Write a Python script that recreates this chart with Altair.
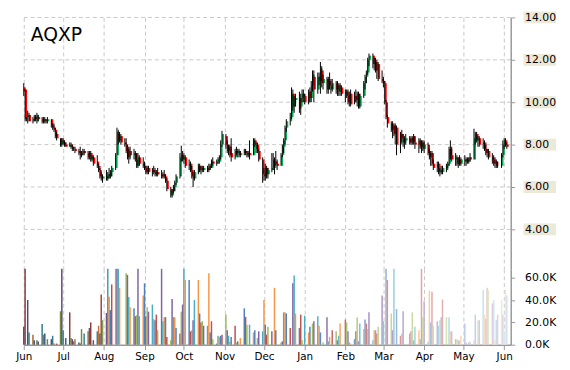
import altair as alt
import pandas as pd
import numpy as np

symbol = "AQXP"

# ---- daily candles [open, high, low, close] (weekdays of each month) ----
c_2015_06 = [
    [10.7, 10.9, 10.3, 10.5], [10.6, 10.6, 9.1, 9.2], [9.2, 9.3, 9.1, 9.2], [9.3, 9.6, 9.0, 9.4], [9.4, 9.5, 9.1, 9.1],
    [9.1, 9.3, 9.0, 9.2], [9.2, 9.4, 9.1, 9.3], [9.3, 9.4, 9.1, 9.2], [9.1, 9.5, 9.0, 9.4], [9.3, 9.4, 9.1, 9.2],
    [9.2, 9.3, 9.0, 9.1], [9.1, 9.3, 9.0, 9.2], [9.2, 9.3, 9.0, 9.1], [9.1, 9.2, 9.0, 9.1], [9.1, 9.3, 9.0, 9.2],
    [9.2, 9.2, 8.8, 8.9], [8.9, 9.0, 8.7, 8.8], [8.8, 9.0, 8.6, 8.7], [8.7, 8.8, 8.3, 8.4], [8.5, 8.6, 8.2, 8.3],
    [8.3, 8.3, 7.9, 8.0], [8.0, 8.3, 7.9, 8.2]]
c_2015_07 = [
    [8.2, 8.3, 8.0, 8.1], [8.1, 8.2, 7.9, 8.0], [8.0, 8.1, 7.9, 7.9],
    [7.9, 8.1, 7.9, 8.0], [8.0, 8.1, 7.8, 7.9], [7.9, 8.0, 7.7, 7.8], [7.8, 7.9, 7.7, 7.8], [7.8, 7.9, 7.6, 7.7],
    [7.7, 7.8, 7.5, 7.6], [7.6, 7.9, 7.3, 7.5], [7.5, 7.7, 7.4, 7.6], [7.6, 7.8, 7.5, 7.7], [7.7, 7.8, 7.5, 7.6],
    [7.6, 7.7, 7.3, 7.4], [7.5, 7.7, 7.3, 7.6], [7.6, 7.7, 7.2, 7.3], [7.3, 7.5, 7.2, 7.4], [7.4, 7.5, 7.0, 7.1],
    [7.2, 7.5, 6.9, 7.0], [7.0, 7.1, 6.7, 6.8], [6.8, 6.9, 6.4, 6.5], [6.5, 6.7, 6.3, 6.4], [6.4, 6.6, 6.2, 6.5]]
c_2015_08 = [
    [6.5, 6.8, 6.3, 6.4], [6.4, 6.7, 6.3, 6.6], [6.6, 6.9, 6.4, 6.5], [6.5, 6.8, 6.4, 6.7], [6.7, 7.0, 6.5, 6.9],
    [6.9, 7.6, 6.8, 7.5], [7.5, 8.8, 7.5, 8.6], [8.5, 8.7, 8.0, 8.2], [8.2, 8.6, 8.1, 8.4], [8.4, 8.5, 8.0, 8.1],
    [8.1, 8.3, 7.9, 8.0], [8.0, 8.3, 7.6, 7.7], [7.8, 8.0, 7.3, 7.4], [7.4, 7.9, 7.1, 7.7], [7.7, 7.9, 7.3, 7.5],
    [7.5, 7.8, 7.3, 7.6], [7.6, 7.7, 7.2, 7.3], [7.3, 7.6, 6.9, 7.0], [7.0, 7.6, 6.9, 7.4], [7.4, 7.5, 7.0, 7.1],
    [7.1, 7.4, 6.9, 7.0]]
c_2015_09 = [
    [7.0, 7.2, 6.8, 6.9], [6.9, 7.0, 6.6, 6.7], [6.7, 7.0, 6.6, 6.9], [6.9, 7.0, 6.6, 6.7],
    [6.7, 6.9, 6.5, 6.8], [6.8, 7.0, 6.6, 6.7], [6.7, 6.9, 6.5, 6.6], [6.6, 6.8, 6.5, 6.7], [6.7, 6.9, 6.5, 6.6],
    [6.6, 6.8, 6.4, 6.5], [6.5, 6.7, 6.4, 6.6], [6.6, 6.8, 6.4, 6.5], [6.5, 6.6, 6.2, 6.3], [6.3, 6.4, 5.8, 5.9],
    [5.9, 6.0, 5.5, 5.6], [5.6, 5.9, 5.5, 5.8], [5.8, 6.1, 5.7, 6.0], [6.0, 6.3, 5.8, 6.2], [6.2, 6.6, 6.1, 6.5],
    [6.5, 7.6, 6.4, 7.4], [7.4, 7.95, 7.2, 7.5], [7.5, 7.7, 7.2, 7.3]]
c_2015_10 = [
    [7.3, 7.6, 7.1, 7.4], [7.4, 7.5, 6.9, 7.0],
    [7.0, 7.3, 6.8, 7.1], [7.1, 7.2, 6.7, 6.8], [6.8, 7.0, 6.4, 6.5], [6.5, 6.7, 6.0, 6.4], [6.4, 6.8, 6.3, 6.7],
    [6.7, 7.1, 6.6, 7.0], [7.0, 7.1, 6.7, 6.8], [6.8, 7.0, 6.6, 6.9], [6.9, 7.0, 6.7, 6.8], [6.8, 7.0, 6.7, 6.9],
    [6.9, 7.0, 6.7, 6.8], [6.8, 7.1, 6.7, 7.0], [7.0, 7.1, 6.8, 6.9], [6.9, 7.3, 6.9, 7.2], [7.2, 7.4, 7.0, 7.1],
    [7.1, 7.3, 7.0, 7.2], [7.2, 7.4, 7.1, 7.3], [7.2, 7.5, 7.1, 7.4], [7.4, 8.2, 7.3, 8.0], [8.0, 8.65, 7.9, 8.5]]
c_2015_11 = [
    [8.4, 8.5, 7.8, 8.0], [8.0, 8.2, 7.6, 7.7], [7.7, 8.0, 7.5, 7.9], [7.9, 8.0, 7.4, 7.5], [7.6, 8.3, 7.2, 7.4],
    [7.4, 7.8, 7.3, 7.7], [7.7, 7.9, 7.5, 7.6], [7.6, 7.8, 7.4, 7.7], [7.7, 7.8, 7.4, 7.5], [7.5, 7.7, 7.4, 7.6],
    [7.6, 7.8, 7.5, 7.7], [7.7, 7.8, 7.5, 7.6], [7.6, 7.7, 7.4, 7.5], [7.5, 7.7, 7.4, 7.6], [7.6, 8.2, 7.3, 7.5],
    [7.5, 8.3, 7.5, 8.2], [8.2, 8.3, 7.9, 8.0], [7.8, 8.1, 7.6, 8.0], [8.0, 8.1, 7.6, 7.7], [7.7, 7.8, 7.2, 7.3],
    [7.3, 7.4, 6.2, 6.6]]
c_2015_12 = [
    [6.6, 6.9, 6.3, 6.5], [6.5, 7.1, 6.3, 6.9], [6.9, 7.0, 6.4, 6.6], [6.6, 6.9, 6.4, 6.8],
    [6.8, 7.6, 6.7, 6.9], [7.3, 7.6, 6.8, 6.9], [6.9, 7.4, 6.6, 7.2], [7.2, 7.7, 7.0, 7.1], [7.1, 7.3, 6.8, 7.0],
    [7.0, 7.6, 7.0, 7.5], [7.5, 8.0, 7.4, 7.9], [7.9, 8.3, 7.6, 8.2], [8.2, 8.9, 8.0, 8.8], [8.8, 9.2, 8.6, 9.1],
    [9.1, 9.5, 8.9, 9.3], [9.3, 10.7, 9.2, 10.4], [10.4, 10.6, 9.6, 9.8], [9.8, 10.3, 9.5, 10.1], [10.1, 10.4, 9.8, 10.2],
    [10.2, 10.5, 9.5, 9.7], [9.8, 10.4, 9.4, 10.2], [10.2, 10.6, 10.0, 10.4], [10.4, 10.6, 10.0, 10.3]]
c_2016_01 = [
    [10.3, 10.4, 9.9, 10.0],
    [10.0, 10.6, 9.9, 10.5], [10.5, 10.7, 10.0, 10.2], [10.2, 11.0, 10.0, 10.8], [10.8, 11.5, 10.5, 11.3], [11.2, 11.5, 10.0, 10.6],
    [10.6, 11.4, 10.4, 11.2], [11.2, 11.4, 10.8, 11.0], [11.0, 11.9, 10.4, 11.6], [11.5, 11.7, 10.7, 10.9], [10.9, 11.3, 10.6, 11.1],
    [11.1, 11.2, 10.4, 10.6], [10.6, 11.2, 10.4, 11.0], [11.0, 11.4, 10.6, 10.8], [10.8, 11.1, 10.4, 10.6], [10.6, 11.1, 10.5, 10.9],
    [10.9, 11.0, 10.4, 10.6], [10.6, 11.0, 10.3, 10.8], [10.8, 10.9, 10.3, 10.5], [10.5, 10.9, 10.3, 10.7], [10.7, 10.8, 10.3, 10.4]]
c_2016_02 = [
    [10.4, 10.6, 10.0, 10.5], [10.5, 10.6, 10.2, 10.3], [10.3, 10.6, 9.9, 10.0], [10.0, 10.5, 9.8, 10.4], [10.4, 10.6, 9.8, 9.9],
    [10.0, 10.5, 9.9, 10.3], [10.3, 10.6, 10.0, 10.1], [10.1, 10.5, 9.8, 10.4], [10.4, 10.5, 9.7, 9.8], [9.8, 10.4, 9.7, 10.3],
    [10.3, 11.0, 10.2, 10.9], [10.9, 11.3, 10.6, 11.2], [11.2, 11.5, 10.9, 11.4], [11.4, 12.1, 11.3, 12.0], [12.0, 12.3, 11.7, 12.2],
    [12.2, 12.3, 11.6, 11.8], [11.8, 12.1, 11.5, 11.9], [11.9, 12.1, 11.4, 11.5], [11.5, 12.0, 11.1, 11.8], [11.8, 11.9, 11.0, 11.1],
    [11.1, 11.5, 10.9, 11.0]]
c_2016_03 = [
    [11.0, 11.2, 10.7, 10.9], [10.9, 11.0, 9.9, 10.0], [10.0, 10.1, 9.2, 9.3], [9.3, 9.4, 8.8, 9.0],
    [9.0, 9.1, 8.6, 8.7], [8.7, 9.1, 8.3, 8.9], [8.9, 9.0, 8.4, 8.5], [8.5, 9.0, 8.0, 8.8], [8.8, 8.9, 7.5, 8.0],
    [8.0, 8.6, 7.6, 8.5], [8.5, 8.7, 8.1, 8.3], [8.3, 8.5, 7.9, 8.1], [8.1, 8.4, 7.8, 8.2], [8.2, 8.5, 8.0, 8.3],
    [8.3, 8.4, 8.0, 8.1], [8.1, 8.4, 8.0, 8.3], [8.3, 8.4, 8.0, 8.2], [8.4, 8.5, 8.0, 8.1], [8.1, 8.4, 7.8, 8.0],
    [8.0, 8.3, 7.6, 8.2], [8.2, 8.3, 7.8, 7.9], [7.9, 8.2, 7.6, 8.1], [8.1, 8.2, 7.7, 7.8]]
c_2016_04 = [
    [7.8, 8.2, 7.6, 8.0],
    [8.0, 8.1, 7.5, 7.6], [7.6, 7.8, 7.3, 7.4], [7.4, 7.7, 7.0, 7.6], [7.6, 7.7, 7.0, 7.1], [7.1, 7.3, 6.8, 6.9],
    [6.9, 7.2, 6.7, 7.1], [7.1, 7.2, 6.6, 6.7], [6.7, 6.9, 6.5, 6.8], [6.8, 7.0, 6.6, 6.7], [6.7, 7.0, 6.6, 6.9],
    [6.9, 7.1, 6.7, 7.0], [7.0, 7.2, 6.8, 7.1], [7.1, 7.9, 7.0, 7.8], [7.8, 8.2, 7.3, 7.5], [7.5, 7.9, 7.2, 7.3],
    [7.3, 7.6, 7.0, 7.4], [7.4, 7.5, 7.0, 7.1], [7.1, 7.4, 6.9, 7.3], [7.3, 7.5, 7.0, 7.1], [7.1, 7.4, 7.0, 7.3]]
c_2016_05 = [
    [7.3, 7.5, 7.0, 7.2], [7.2, 7.4, 7.0, 7.3], [7.3, 7.4, 7.1, 7.2], [7.2, 7.4, 7.1, 7.4], [7.4, 7.6, 7.2, 7.3],
    [7.3, 8.75, 7.3, 8.3], [8.3, 8.6, 8.0, 8.5], [8.5, 8.6, 8.1, 8.2], [8.2, 8.4, 7.9, 8.3], [8.3, 8.4, 7.9, 8.0],
    [8.0, 8.3, 7.8, 8.1], [8.1, 8.2, 7.7, 7.8], [7.8, 8.0, 7.5, 7.6], [7.6, 7.8, 7.4, 7.7], [7.7, 7.8, 7.3, 7.4],
    [7.4, 7.6, 7.1, 7.3], [7.3, 7.5, 7.0, 7.1], [7.1, 7.4, 6.9, 7.2], [7.2, 7.3, 6.9, 7.0], [7.0, 7.2, 6.9, 7.0],
    [7.0, 7.6, 6.9, 7.5], [7.5, 8.2, 7.4, 8.0]]
c_2016_06 = [[8.0, 8.3, 7.8, 8.2], [8.2, 8.3, 7.9, 8.0], [8.0, 8.1, 7.8, 7.9]]

# ---- daily volume, in thousands ----
v_2015_06 = [16, 68, 0, 40, 11, 9, 4, 0, 4, 3, 18.5, 9, 10, 0, 5, 5, 8, 1, 0, 1, 30, 68]
v_2015_07 = [13, 0, 6, 29, 6, 5, 3, 5, 2, 1, 14, 0, 10, 12, 15, 20, 0, 4, 12, 17, 10, 45, 22]
v_2015_08 = [28.5, 68, 43, 31, 54, 68, 68, 68, 51, 0, 0, 64, 62.6, 42.7, 33.5, 32.6, 25.6, 26.5, 68, 25.6, 44]
v_2015_09 = [55, 25.6, 33.5, 29.6, 36, 23, 22, 27, 13, 68, 21, 24.7, 24.7, 7, 4, 41, 24.7, 24.7, 15, 10, 29.6, 36]
v_2015_10 = [68, 58, 58, 12, 13, 22, 40, 58, 28, 20, 21, 17, 17, 64, 11, 21, 5, 1, 8, 7, 8, 9]
v_2015_11 = [27, 13, 8, 3, 7, 17, 2, 3, 0, 6, 32.6, 25, 18, 0, 18, 11, 13, 0, 6, 12, 12]
v_2015_12 = [40, 18, 9, 16, 12, 0, 51, 13, 0, 2, 3, 29, 29, 28, 15, 0, 55, 62, 28, 15, 27, 4, 0]
v_2016_01 = [26, 11, 16, 0, 19, 21, 25.6, 17, 11, 0, 2, 24.7, 3, 7, 0, 13, 12, 4, 8, 19, 0]
v_2016_02 = [22.5, 20, 12, 2, 1, 5, 12, 24.5, 3, 19, 14, 22.5, 19, 14, 29, 4, 13, 13, 10, 16, 44]
v_2016_03 = [21, 0, 68, 58, 28, 13, 68, 0, 32, 8, 10, 30, 0, 0, 10, 12, 29, 4, 16, 13, 5, 68, 24.7]
v_2016_04 = [39, 3, 48.5, 20, 47.5, 17, 21, 17, 22, 24.7, 40.5, 24.7, 0, 24.7, 12, 12, 5, 5, 4, 4, 8]
v_2016_05 = [19, 2, 0, 2, 3, 4, 27, 0, 22, 22, 49, 27, 23, 51, 49, 37, 40, 4, 22, 27, 40, 27]
v_2016_06 = [12, 49, 44]

month_ranges = [
    ("2015-06-01", "2015-06-30", c_2015_06, v_2015_06),
    ("2015-07-01", "2015-07-31", c_2015_07, v_2015_07),
    ("2015-08-01", "2015-08-31", c_2015_08, v_2015_08),
    ("2015-09-01", "2015-09-30", c_2015_09, v_2015_09),
    ("2015-10-01", "2015-10-31", c_2015_10, v_2015_10),
    ("2015-11-01", "2015-11-30", c_2015_11, v_2015_11),
    ("2015-12-01", "2015-12-31", c_2015_12, v_2015_12),
    ("2016-01-01", "2016-01-31", c_2016_01, v_2016_01),
    ("2016-02-01", "2016-02-29", c_2016_02, v_2016_02),
    ("2016-03-01", "2016-03-31", c_2016_03, v_2016_03),
    ("2016-04-01", "2016-04-30", c_2016_04, v_2016_04),
    ("2016-05-01", "2016-05-31", c_2016_05, v_2016_05),
    ("2016-06-01", "2016-06-03", c_2016_06, v_2016_06),
]

price_ticks = [4, 6, 8, 10, 12, 14]
volume_ticks = [0, 20, 40, 60]
x_start, x_end = "2015-06-01", "2016-06-06"

# ---- build table ----
rows = []
for start, end, ohlc, vol in month_ranges:
    days = pd.bdate_range(start, end)
    for d, (o, h, l, c), v in zip(days, ohlc, vol):
        rows.append({"date": d.strftime("%Y-%m-%d"), "open": o, "high": h,
                     "low": l, "close": c, "vol": v,
                     "dir": "up" if c >= o else "down"})
df = pd.DataFrame(rows)

# bar colours: office hues cycling, shade drifting from dark to pale
hues = ["#4F81BD", "#C0504D", "#9BBB59", "#8064A2", "#4BACC6", "#F79646"]
def shade(hexc, L):
    r, g, b = [int(hexc[i:i + 2], 16) for i in (1, 3, 5)]
    if L >= 0:
        r, g, b = [v + (255 - v) * L for v in (r, g, b)]
    else:
        r, g, b = [v * (1 + L) for v in (r, g, b)]
    return "#%02x%02x%02x" % tuple(int(round(x)) for x in (r, g, b))
n = len(df)
Ls = np.interp(np.arange(n), [0, 40, 50, 150, 175, 200, 240, n - 1],
               [-0.3, -0.25, 0, 0, 0.15, 0.4, 0.6, 0.75])
df["col"] = [shade(hues[i % 6], Ls[i]) for i in range(n)]

W = 494
H_PRICE = 255
H_VOL = 77
FONT = "DejaVu Sans"
GRID = "#C8C8C8"
AXC = "#999999"

def ms(s):
    return int(pd.Timestamp(s, tz="UTC").value // 10**6)

xscale = alt.Scale(type="utc", domain=[ms(x_start), ms(x_end)], nice=False, padding=0)
month_tc = {"interval": "month", "step": 1}

x_top_axis = alt.Axis(grid=True, gridDash=[4, 3], gridColor=GRID, labels=False,
                      ticks=False, domain=False, title=None, tickCount=month_tc)
x_bot_axis = alt.Axis(grid=True, gridDash=[4, 3], gridColor=GRID,
                      labelExpr="utcFormat(datum.value, '%b')",
                      tickCount=month_tc, labelFlush=False, labelOverlap=False,
                      domainColor=AXC, domainWidth=1.5, tickColor=AXC, tickSize=5,
                      labelFont=FONT, labelFontSize=10.5, labelColor="black",
                      labelPadding=2, title=None)

yscale_p = alt.Scale(domain=[14 - H_PRICE / 21.5, 14], nice=False, zero=False)
y_axis_p = alt.Axis(orient="right", values=price_ticks, format=".2f", grid=False,
                    domainColor=AXC, domainWidth=1.5, tickColor=AXC, tickSize=4,
                    labelFont=FONT, labelFontSize=11, labelColor="black",
                    labelPadding=10, title=None, zindex=1)

X_top = alt.X("date:T", scale=xscale, axis=x_top_axis)
tick_df = pd.DataFrame({"p": price_ticks})

hgrid = alt.Chart(tick_df).mark_rule(color=GRID, strokeDash=[4, 3], strokeWidth=1).encode(
    y=alt.Y("p:Q", scale=yscale_p, axis=y_axis_p))
label_box = alt.Chart(tick_df).mark_rule(color="#ECE9D8", strokeWidth=12).encode(
    y=alt.Y("p:Q", scale=yscale_p, axis=y_axis_p),
    x=alt.value(W + 13), x2=alt.value(W + 46))
body = alt.Chart(df).mark_bar(width=2, xOffset=1).encode(
    x=X_top,
    y=alt.Y("open:Q", scale=yscale_p, axis=y_axis_p),
    y2="close:Q",
    color=alt.Color("dir:N", scale=alt.Scale(domain=["up", "down"], range=["#00B050", "#FF0000"]), legend=None))
wick = alt.Chart(df).mark_rule(color="black", strokeWidth=1).encode(
    x=X_top,
    y=alt.Y("low:Q", scale=yscale_p, axis=y_axis_p),
    y2="high:Q")
title = alt.Chart(pd.DataFrame({"t": [symbol]})).mark_text(
    font=FONT, fontSize=19, align="left", baseline="alphabetic", color="black").encode(
    text="t:N", x=alt.value(7), y=alt.value(24))

price = alt.layer(hgrid, label_box, body, wick, title).properties(width=W, height=H_PRICE)

volume = alt.Chart(df).mark_bar(width=1.5).encode(
    x=alt.X("date:T", scale=xscale, axis=x_bot_axis),
    y=alt.Y("vol:Q", scale=alt.Scale(domain=[0, 68], nice=False),
            axis=alt.Axis(orient="right", values=volume_ticks, grid=False,
                          labelExpr="format(datum.value, '.1f') + 'K'",
                          domainColor=AXC, domainWidth=1.5, tickColor=AXC, tickSize=4,
                          labelFont=FONT, labelFontSize=11, labelColor="black",
                          labelPadding=10, title=None)),
    color=alt.Color("col:N", scale=None),
).properties(width=W, height=H_VOL)

chart = alt.vconcat(price, volume, spacing=0).configure_view(stroke=None).properties(
    padding={"left": 7, "top": 1, "right": 0, "bottom": 2})

chart.save("out.html", embed_options={"renderer": "svg", "actions": False})
